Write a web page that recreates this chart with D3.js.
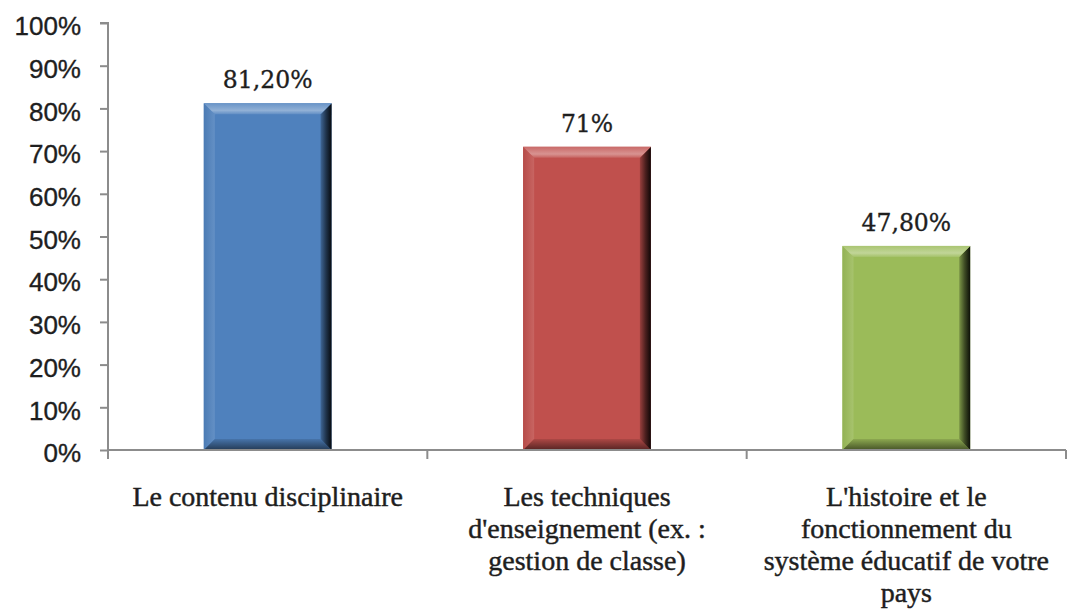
<!DOCTYPE html>
<html>
<head>
<meta charset="utf-8">
<script src="https://cdn.jsdelivr.net/npm/d3@7"></script>
<style>
  html, body { margin: 0; padding: 0; background: #ffffff; }
  svg { display: block; }
</style>
</head>
<body>
<svg id="chart" width="1067" height="612"></svg>
<script>
// ---- data ----
const categories = ["Le contenu disciplinaire", "Les techniques d'enseignement (ex. : gestion de classe)", "L'histoire et le fonctionnement du système éducatif de votre pays"];
const categoryLines = [
  ["Le contenu disciplinaire"],
  ["Les techniques", "d'enseignement (ex. :", "gestion de classe)"],
  ["L'histoire et le", "fonctionnement du", "système éducatif de votre", "pays"]
];
const values = [0.812, 0.71, 0.478];
const valueLabels = ["81,20%", "71%", "47,80%"];
const barColors = ["#4f81bd", "#c0504d", "#9bbb59"];
const yTicks = [0, 0.1, 0.2, 0.3, 0.4, 0.5, 0.6, 0.7, 0.8, 0.9, 1.0];
const yTickLabels = ["0%", "10%", "20%", "30%", "40%", "50%", "60%", "70%", "80%", "90%", "100%"];

(function () {
// ---- layout ----
const svg = d3.select("#chart");
const pLeft = 108, pRight = 1066, pTop = 23, pBottom = 450;
const axisColor = "#8c8c8c";
const textColor = "#1e1e1e";

const x = d3.scaleBand().domain(categories).range([pLeft, pRight]).padding(0);
const y = d3.scaleLinear().domain([0, 1]).range([pBottom, pTop]);

const barFrac = 0.4;
const bw = x.bandwidth() * barFrac;

// gradients for bevel
const defs = svg.append("defs");
function mix(c, t, k) { return d3.interpolateRgb(c, t)(k); }
barColors.forEach((c, i) => {
  const gr = defs.append("linearGradient").attr("id", "gR" + i).attr("x1", 0).attr("x2", 1).attr("y1", 0).attr("y2", 0);
  gr.append("stop").attr("offset", 0).attr("stop-color", mix(c, "#000", 0.2));
  gr.append("stop").attr("offset", 0.5).attr("stop-color", mix(c, "#000", 0.6));
  gr.append("stop").attr("offset", 1).attr("stop-color", mix(c, "#000", 0.92));
  const gt = defs.append("linearGradient").attr("id", "gT" + i).attr("x1", 0).attr("x2", 0).attr("y1", 0).attr("y2", 1);
  gt.append("stop").attr("offset", 0).attr("stop-color", mix(c, "#fff", 0.15));
  gt.append("stop").attr("offset", 0.65).attr("stop-color", mix(c, "#fff", 0.38));
  gt.append("stop").attr("offset", 1).attr("stop-color", mix(c, "#fff", 0.1));
  const gb = defs.append("linearGradient").attr("id", "gB" + i).attr("x1", 0).attr("x2", 0).attr("y1", 0).attr("y2", 1);
  gb.append("stop").attr("offset", 0).attr("stop-color", mix(c, "#000", 0.1));
  gb.append("stop").attr("offset", 1).attr("stop-color", mix(c, "#000", 0.55));
  const gl = defs.append("linearGradient").attr("id", "gL" + i).attr("x1", 0).attr("x2", 1).attr("y1", 0).attr("y2", 0);
  gl.append("stop").attr("offset", 0).attr("stop-color", mix(c, "#000", 0.05));
  gl.append("stop").attr("offset", 1).attr("stop-color", mix(c, "#fff", 0.12));
});

// bars
const bev = 11;
const bars = svg.append("g").selectAll("g.bar")
  .data(categories.map((c, i) => ({ c, v: values[i], i })))
  .join("g").attr("class", "bar");

bars.each(function(d) {
  const g = d3.select(this);
  const x0 = x(d.c) + (x.bandwidth() - bw) / 2, x1 = x0 + bw;
  const y0 = y(d.v), y1 = y(0);
  const b = Math.min(bev, (y1 - y0) / 2);
  g.append("rect").attr("x", x0).attr("y", y0).attr("width", bw).attr("height", y1 - y0)
    .attr("fill", barColors[d.i]);
  const poly = pts => pts.map(p => p.join(",")).join(" ");
  g.append("polygon").attr("points", poly([[x0, y0], [x0 + b, y0 + b], [x0 + b, y1 - b], [x0, y1]]))
    .attr("fill", `url(#gL${d.i})`);
  g.append("polygon").attr("points", poly([[x0, y1], [x0 + b, y1 - b], [x1 - b, y1 - b], [x1, y1]]))
    .attr("fill", `url(#gB${d.i})`);
  g.append("polygon").attr("points", poly([[x1, y0], [x1 - b, y0 + b], [x1 - b, y1 - b], [x1, y1]]))
    .attr("fill", `url(#gR${d.i})`);
  g.append("polygon").attr("points", poly([[x0, y0], [x1, y0], [x1 - b, y0 + b], [x0 + b, y0 + b]]))
    .attr("fill", `url(#gT${d.i})`);
});

// value labels
svg.append("g").selectAll("text")
  .data(categories.map((c, i) => ({ c, v: values[i], t: valueLabels[i] })))
  .join("text")
  .attr("x", d => x(d.c) + x.bandwidth() / 2)
  .attr("y", d => y(d.v) - 15)
  .attr("text-anchor", "middle")
  .attr("font-family", "'DejaVu Serif', serif")
  .attr("font-size", 23.5)
  .attr("fill", textColor)
  .attr("stroke", textColor).attr("stroke-width", 0.35)
  .text(d => d.t);

// y axis
const yAxis = d3.axisLeft(y).tickValues(yTicks).tickSize(8).tickPadding(19)
  .tickFormat((d, i) => yTickLabels[i]);
const gy = svg.append("g").attr("transform", `translate(${pLeft},0)`).call(yAxis);
gy.select(".domain").attr("stroke", axisColor).attr("stroke-width", 2).attr("d", `M-8,${pTop}H0V${pBottom}`);
gy.selectAll(".tick line").attr("stroke", axisColor).attr("stroke-width", 2);
gy.selectAll(".tick text")
  .attr("font-family", "'Liberation Sans', Arial, sans-serif")
  .attr("font-size", 26)
  .attr("fill", textColor)
  .attr("stroke", textColor).attr("stroke-width", 0.35)
  .attr("dy", "0.45em");

// x axis
const xAxis = d3.axisBottom(x).tickSize(0).tickFormat("");
const gx = svg.append("g").attr("transform", `translate(0,${pBottom})`).call(xAxis);
gx.select(".domain").attr("stroke", axisColor).attr("stroke-width", 2).attr("d", `M${pLeft},0H${pRight}`);
const bounds = categories.map(c => x(c)).concat([x(categories[categories.length - 1]) + x.bandwidth()]);
gx.selectAll("line.bound").data(bounds).join("line").attr("class", "bound")
  .attr("x1", d => d).attr("x2", d => d).attr("y1", 0).attr("y2", 9)
  .attr("stroke", axisColor).attr("stroke-width", 2);

// category labels
const lab = svg.append("g").selectAll("text")
  .data(categories.map((c, i) => ({ c, lines: categoryLines[i] })))
  .join("text")
  .attr("text-anchor", "middle")
  .attr("font-family", "'Liberation Serif', 'Times New Roman', serif")
  .attr("font-size", 28)
  .attr("fill", textColor)
  .attr("stroke", textColor).attr("stroke-width", 0.45);
lab.each(function(d) {
  const t = d3.select(this);
  const cx = x(d.c) + x.bandwidth() / 2;
  d.lines.forEach((ln, k) => {
    t.append("tspan").attr("x", cx).attr("y", pBottom + 56 + k * 32).text(ln);
  });
});
})();
</script>
</body>
</html>
